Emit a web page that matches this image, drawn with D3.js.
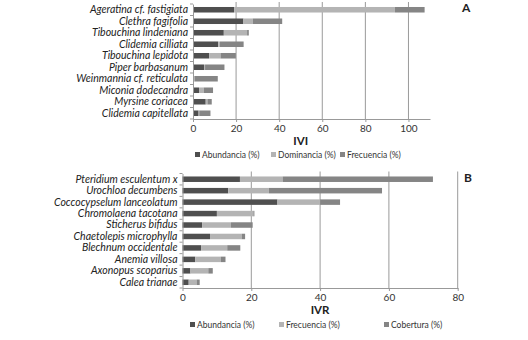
<!DOCTYPE html>
<html>
<head>
<meta charset="utf-8">
<style>
    body { margin: 0; background: #fff; }
    text { font-family: Lato, "Open Sans", sans-serif; fill: #222; }
    .sp { font-style: italic; font-size: 10.5px; }
    .tick-lbl { font-size: 10px; fill: #333; }
    .leg { font-size: 8.5px; fill: #333; }
</style>
</head>
<body>
<svg id="chart" width="528" height="340"></svg>
<script src="https://cdn.jsdelivr.net/npm/d3@7"></script>
<script>
    // panel A: IVI
    let speciesA = ["Ageratina cf. fastigiata", "Clethra fagifolia", "Tibouchina lindeniana", "Clidemia cilliata",
        "Tibouchina lepidota", "Piper barbasanum", "Weinmannia cf. reticulata", "Miconia dodecandra",
        "Myrsine coriacea", "Clidemia capitellata"]
    let abundA = [19.1, 23.4, 14.3, 11.7, 7.5, 5.1, 0.4, 2.8, 5.9, 2.6]
    let domA = [74.6, 4.3, 10.8, 0.8, 5.3, 0.5, 0.3, 2.2, 0.8, 0.3]
    let frecA = [13.8, 13.7, 0.8, 11.0, 7.1, 9.0, 10.8, 4.3, 2.0, 5.2]
    let ticksA = [0, 20, 40, 60, 80, 100]

    // panel B: IVR
    let speciesB = ["Pteridium esculentum x", "Urochloa decumbens", "Coccocypselum lanceolatum", "Chromolaena tacotana",
        "Sticherus bifidus", "Chaetolepis microphylla", "Blechnum occidentale", "Anemia villosa",
        "Axonopus scoparius", "Calea trianae"]
    let abundB = [16.7, 13.3, 27.6, 10.0, 5.7, 8.0, 5.4, 3.7, 2.3, 1.8]
    let frecB = [12.4, 11.8, 12.4, 10.6, 8.4, 9.2, 7.6, 7.4, 5.2, 2.3]
    let cobB = [43.7, 32.9, 5.8, 0.3, 6.3, 1.0, 3.8, 1.4, 1.3, 0.9]
    let ticksB = [0, 20, 40, 60, 80]

    let colors = ["#4f4f4f", "#b4b4b4", "#858585"]
    let svg = d3.select("#chart")

    function drawPanel(cfg) {
        let g = svg.append("g")
        let rows = cfg.species.map((s, i) => ({ name: s, a: cfg.series[0][i], b: cfg.series[1][i], c: cfg.series[2][i] }))
        let stack = d3.stack().keys(["a", "b", "c"])(rows)

        let x = d3.scaleLinear().domain([0, cfg.max]).range([cfg.left, cfg.right])
        let y = d3.scaleBand().domain(cfg.species).range([cfg.top, cfg.bottom]).paddingInner(0.52).paddingOuter(0.26)

        // grid
        g.append("g").selectAll("line")
            .data(cfg.ticks.filter(t => t > 0))
            .enter().append("line")
            .attr("x1", d => x(d)).attr("x2", d => x(d))
            .attr("y1", cfg.top - 2).attr("y2", cfg.bottom)
            .attr("stroke", "#9a9a9a").attr("stroke-width", 1)

        // bars
        g.append("g").selectAll("g")
            .data(stack)
            .enter().append("g")
            .attr("fill", (d, i) => colors[i])
            .selectAll("rect")
            .data(d => d)
            .enter().append("rect")
            .attr("x", d => x(d[0]))
            .attr("width", d => x(d[1]) - x(d[0]))
            .attr("y", d => y(d.data.name))
            .attr("height", y.bandwidth())

        // y axis
        let yAxis = g.append("g").attr("transform", `translate(${cfg.left},0)`)
            .call(d3.axisLeft(y).tickSize(0).tickPadding(5))
        yAxis.select(".domain").attr("stroke", "#999")
        yAxis.selectAll("text").attr("class", "sp").attr("fill", "#222")
        // band boundary ticks
        let bounds = d3.range(cfg.species.length + 1).map(i => cfg.top + i * y.step())
        g.append("g").selectAll("line").data(bounds).enter().append("line")
            .attr("x1", cfg.left - 3).attr("x2", cfg.left)
            .attr("y1", d => d).attr("y2", d => d)
            .attr("stroke", "#999")

        // x axis
        let xAxis = g.append("g").attr("transform", `translate(0,${cfg.bottom})`)
            .call(d3.axisBottom(x).tickValues(cfg.ticks).tickSize(3).tickPadding(3).tickSizeOuter(0))
        xAxis.select(".domain").attr("stroke", "#999")
        xAxis.selectAll(".tick line").attr("stroke", "#999")
        xAxis.selectAll("text").attr("class", "tick-lbl").attr("fill", "#333")

        g.append("text").attr("x", (cfg.left + x(cfg.ticks[cfg.ticks.length - 1])) / 2).attr("y", cfg.bottom + 26)
            .attr("text-anchor", "middle").attr("font-weight", "bold").attr("font-size", 11.5)
            .text(cfg.title)

        g.append("text").attr("x", cfg.tagX).attr("y", cfg.top + 8)
            .attr("font-weight", "bold").attr("font-size", 12).text(cfg.tag)

        // legend
        let leg = g.append("g").selectAll("g").data(cfg.legend).enter().append("g")
            .attr("transform", (d, i) => `translate(${cfg.legX[i]},${cfg.bottom + cfg.legDy})`)
        leg.append("rect").attr("width", 5).attr("height", 5).attr("y", -5)
            .attr("fill", (d, i) => colors[i])
        leg.append("text").attr("class", "leg").attr("x", 7).attr("y", 0.5).text(d => d)
    }

    drawPanel({
        species: speciesA, series: [abundA, domA, frecA], ticks: ticksA, max: 110,
        left: 193, right: 430, top: 4, bottom: 119,
        title: "IVI", tag: "A", tagX: 462, legDy: 38,
        legend: ["Abundancia (%)", "Dominancia (%)", "Frecuencia (%)"], legX: [195, 271, 340]
    })

    drawPanel({
        species: speciesB, series: [abundB, frecB, cobB], ticks: ticksB, max: 80,
        left: 182.5, right: 457.7, top: 173.5, bottom: 288,
        title: "IVR", tag: "B", tagX: 464, legDy: 39,
        legend: ["Abundancia (%)", "Frecuencia (%)", "Cobertura (%)"], legX: [190, 279, 384]
    })
</script>
</body>
</html>
